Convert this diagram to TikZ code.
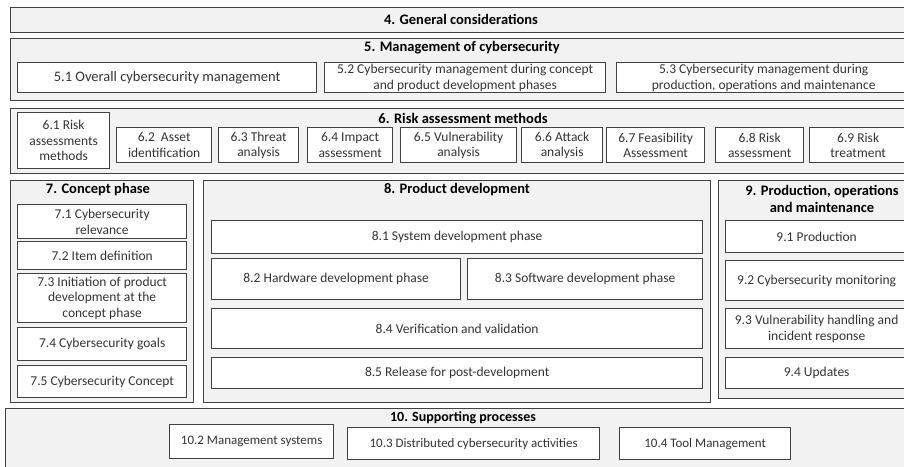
\documentclass[tikz,border=0pt]{standalone}
\usepackage{fontspec}
\setmainfont{Carlito}
\usetikzlibrary{positioning}
\definecolor{linegray}{HTML}{404040}
\definecolor{framefill}{HTML}{F2F2F2}
\definecolor{textgray}{HTML}{333333}

\begin{document}
\begin{tikzpicture}[x=1pt,y=-1pt,
    wh/.style 2 args={minimum width=#1pt,minimum height=#2pt},
    frame/.style={draw=linegray,fill=framefill,line width=1.3pt,anchor=north west,inner sep=0pt},
    box/.style={draw=linegray,fill=white,line width=1.3pt,anchor=north west,inner sep=1pt,
      align=center,text=textgray,font=\fontsize{13.5}{15.5}\selectfont},
    smallbox/.style={box,font=\fontsize{13}{15}\selectfont},
    title/.style={inner sep=0pt,align=center,font=\bfseries\fontsize{14.5}{17.5}\selectfont}]
  \clip (0,0) rectangle (904,466);

  % 4
  \node[frame,wh={902}{25}] (f4) at (10,7) {};
  \node[title] (t4) at (461,19.5) {4. General considerations};

  % 5
  \node[frame,wh={902}{62}] (f5) at (10,38) {};
  \node[title] (t5) at (462,48) {5. Management of cybersecurity};
  \node[box,wh={299}{30},font=\fontsize{14.5}{16}\selectfont] (b51) at (17,62) {5.1 Overall cybersecurity management};
  \node[box,wh={281}{30}] (b52) at (324,62) {5.2 Cybersecurity management during concept\\and product development phases};
  \node[box,wh={294}{30}] (b53) at (616,62) {5.3 Cybersecurity management during\\production, operations and maintenance};

  % 6
  \node[frame,wh={902}{65}] (f6) at (10,108) {};
  \node[title] (t6) at (463,118) {6. Risk assessment methods};
  \node[box,wh={92}{56}] (b61) at (17,112) {6.1 Risk\\assessments\\methods};
  \node[box,wh={95}{35}] (b62) at (116,127) {6.2~ Asset\\identification};
  \node[box,wh={80}{35}] (b63) at (218,127) {6.3 Threat\\analysis};
  \node[box,wh={85}{35}] (b64) at (307,127) {6.4 Impact\\assessment};
  \node[box,wh={116}{35}] (b65) at (400,127) {6.5 Vulnerability\\analysis};
  \node[box,wh={81}{35}] (b66) at (521,127) {6.6 Attack\\analysis};
  \node[box,wh={98}{35}] (b67) at (606,127) {6.7 Feasibility\\Assessment};
  \node[box,wh={88}{35}] (b68) at (715,127) {6.8 Risk\\assessment};
  \node[box,wh={97}{35}] (b69) at (809,127) {6.9 Risk\\treatment};

  % 7
  \node[frame,wh={183}{222}] (f7) at (10,180) {};
  \node[title] (t7) at (98,190) {7. Concept phase};
  \node[box,wh={169}{34}] (b71) at (17,204) {7.1 Cybersecurity\\relevance};
  \node[box,wh={169}{28}] (b72) at (17,241) {7.2 Item definition};
  \node[box,wh={169}{49}] (b73) at (17,273) {7.3 Initiation of product\\development at the\\concept phase};
  \node[box,wh={169}{33}] (b74) at (17,327) {7.4 Cybersecurity goals};
  \node[box,wh={169}{32}] (b75) at (17,365) {7.5 Cybersecurity Concept};

  % 8
  \node[frame,wh={507}{222}] (f8) at (203,180) {};
  \node[title] (t8) at (457,190) {8. Product development};
  \node[box,wh={491}{33}] (b81) at (211,220) {8.1 System development phase};
  \node[box,wh={249}{41}] (b82) at (211,258) {8.2 Hardware development phase};
  \node[box,wh={235}{41}] (b83) at (467,258) {8.3 Software development phase};
  \node[box,wh={491}{40}] (b84) at (211,308) {8.4 Verification and validation};
  \node[box,wh={491}{31}] (b85) at (211,357) {8.5 Release for post-development};

  % 9
  \node[frame,wh={194}{218}] (f9) at (718,180) {};
  \node[title] (t9) at (822,199) {9. Production, operations\\and maintenance};
  \node[box,wh={182}{32}] (b91) at (725,220) {9.1 Production};
  \node[box,wh={182}{40}] (b92) at (725,260) {9.2 Cybersecurity monitoring};
  \node[box,wh={182}{40}] (b93) at (725,308) {9.3 Vulnerability handling and\\incident response};
  \node[box,wh={182}{31}] (b94) at (725,357) {9.4 Updates};

  % 10
  \node[frame,wh={907}{62}] (f10) at (5,408) {};
  \node[title,font=\bfseries\fontsize{14}{16}\selectfont] (t10) at (463,418) {10. Supporting processes};
  \node[smallbox,wh={164}{34}] (b102) at (169,424) {10.2 Management systems};
  \node[smallbox,wh={252}{32}] (b103) at (347,427) {10.3 Distributed cybersecurity activities};
  \node[smallbox,wh={171}{32}] (b104) at (619,427) {10.4 Tool Management};

\end{tikzpicture}
\end{document}
